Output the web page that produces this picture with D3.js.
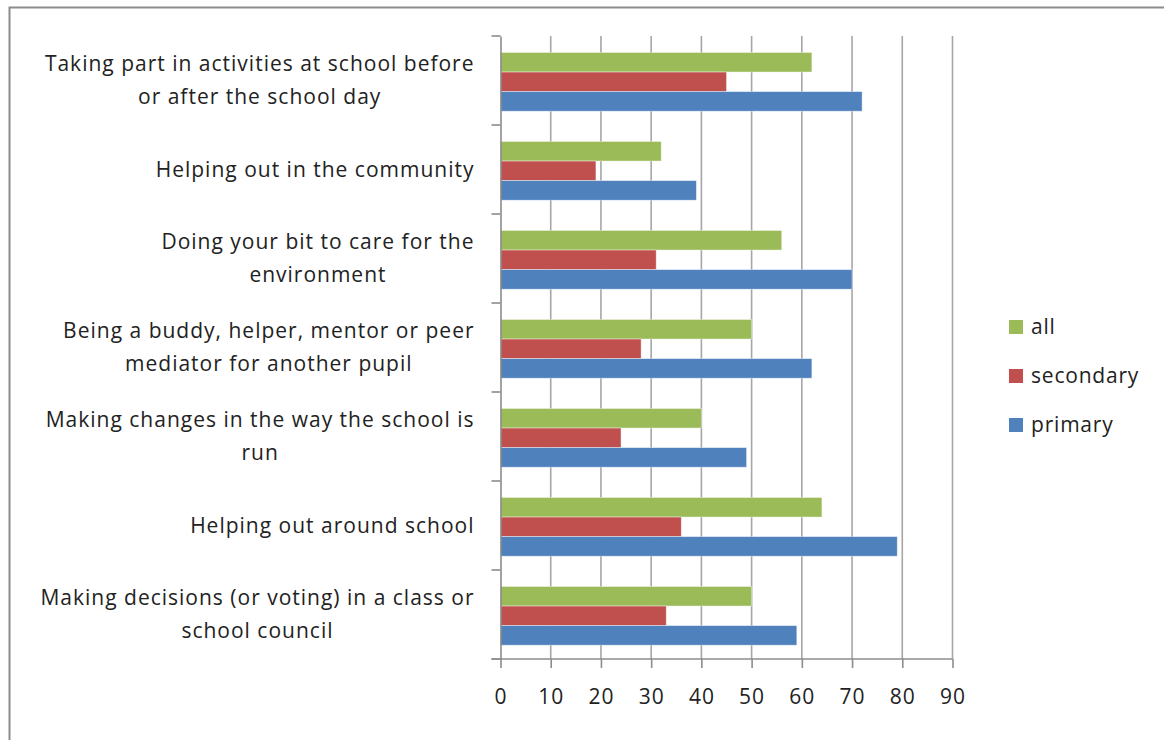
<!DOCTYPE html>
<html>
<head>
<meta charset="utf-8">
<script src="https://cdn.jsdelivr.net/npm/d3@7"></script>
<style>
  body { margin: 0; background: #fff; }
  text { font-family: "Open Sans", Lato, sans-serif; fill: #222; }
</style>
</head>
<body>
<div id="chart"></div>
<script>
// categories, top to bottom (each one split into display lines)
var categories = [
  ["Taking part in activities at school before", "or after the school day"],
  ["Helping out in the community"],
  ["Doing your bit to care for the", "environment"],
  ["Being a buddy, helper, mentor or peer", "mediator for another pupil"],
  ["Making changes in the way the school is", "run"],
  ["Helping out around school"],
  ["Making decisions (or voting) in a class or", "school council"]
];

// series values, same order as categories
var allVals       = [62, 32, 56, 50, 40, 64, 50];
var secondaryVals = [45, 19, 31, 28, 24, 36, 33];
var primaryVals   = [72, 39, 70, 62, 49, 79, 59];

var seriesNames = ["all", "secondary", "primary"];
var seriesColors = ["#9BBB59", "#C0504D", "#4F81BD"];
var xTicks = [0, 10, 20, 30, 40, 50, 60, 70, 80, 90];

var svgWidth = 1164;
var svgHeight = 740;

//plot area
var margin = { top: 36, left: 500.5, right: 211, bottom: 81 };
var width = 952.5 - margin.left;
var height = 659 - margin.top;

var svg = d3.select("#chart")
  .append("svg")
  .attr("width", svgWidth)
  .attr("height", svgHeight);

// frame round the chart (runs off the right and bottom edge)
svg.append("rect")
  .attr("x", 9.5)
  .attr("y", 7.5)
  .attr("width", 1200)
  .attr("height", 800)
  .attr("fill", "none")
  .attr("stroke", "#8c8c8c")
  .attr("stroke-width", 2);

var g = svg.append("g")
  .attr("transform", `translate(${margin.left},${margin.top})`);

var x = d3.scaleLinear().domain([0, 90]).range([0, width]);
var y = d3.scaleBand().domain(d3.range(categories.length)).range([0, height]);
var inner = d3.scaleBand().domain(seriesNames).range([0, y.bandwidth() * 0.66]);

// gridlines
g.selectAll(".grid")
  .data(xTicks.slice(1))
  .enter()
  .append("line")
  .attr("x1", d => x(d))
  .attr("x2", d => x(d))
  .attr("y1", 0)
  .attr("y2", height)
  .attr("stroke", "#a6a6a6")
  .attr("stroke-width", 1.6);

// bars
var rows = categories.map((c, i) => [allVals[i], secondaryVals[i], primaryVals[i]]);
rows.forEach(function(vals, i) {
  var top = y(i) + y.bandwidth() * 0.185;
  g.selectAll(".bar" + i)
    .data(vals)
    .enter()
    .append("rect")
    .attr("x", x(0))
    .attr("y", (d, j) => top + inner(seriesNames[j]))
    .attr("width", d => x(d) - x(0))
    .attr("height", inner.bandwidth())
    .attr("fill", (d, j) => seriesColors[j])
    .attr("stroke", "#ffffff")
    .attr("stroke-opacity", 0.5)
    .attr("stroke-width", 0.8);
});

// category axis
var yAxis = g.append("g")
  .call(d3.axisLeft(y).tickSize(0).tickFormat(""));
yAxis.select(".domain").attr("stroke", "#8c8c8c").attr("stroke-width", 1.6);
g.selectAll(".ytick")
  .data(d3.range(categories.length + 1))
  .enter()
  .append("line")
  .attr("x1", -9)
  .attr("x2", 0)
  .attr("y1", d => d * y.step())
  .attr("y2", d => d * y.step())
  .attr("stroke", "#8c8c8c")
  .attr("stroke-width", 1.6);

// category labels: lines centred in a block that is right aligned
categories.forEach(function(lines, i) {
  var cy = y(i) + y.bandwidth() / 2;
  var lh = 33;
  var t = g.append("text")
    .attr("text-anchor", "middle")
    .attr("font-size", "21px")
    .attr("letter-spacing", "1px");
  var spans = lines.map(function(line, k) {
    return t.append("tspan")
      .attr("y", cy + (k - (lines.length - 1) / 2) * lh)
      .attr("dy", "0.35em")
      .text(line);
  });
  var maxW = d3.max(spans, s => s.node().getComputedTextLength());
  spans.forEach(s => s.attr("x", -26 - maxW / 2));
});

// value axis
var xAxis = g.append("g")
  .attr("transform", `translate(0,${height})`)
  .call(d3.axisBottom(x).tickValues(xTicks).tickSize(9).tickPadding(21));
xAxis.select(".domain").remove();
xAxis.append("line")
  .attr("x1", -9).attr("x2", width)
  .attr("stroke", "#8c8c8c").attr("stroke-width", 1.6);
xAxis.selectAll(".tick line").attr("stroke", "#8c8c8c").attr("stroke-width", 1.6);
xAxis.selectAll(".tick text")
  .attr("font-size", "21px")
  .attr("letter-spacing", "1px")
  .style("font-family", "'Open Sans', Lato, sans-serif")
  .attr("fill", "#222");

// legend
var legend = svg.append("g").attr("transform", "translate(1009,0)");
var legendY = [327, 376, 425];
seriesNames.forEach(function(name, i) {
  legend.append("rect")
    .attr("x", 0)
    .attr("y", legendY[i] - 7)
    .attr("width", 14)
    .attr("height", 14)
    .attr("fill", seriesColors[i]);
  legend.append("text")
    .attr("x", 22)
    .attr("y", legendY[i])
    .attr("dy", "0.35em")
    .attr("font-size", "21px")
    .attr("letter-spacing", "0.8px")
    .text(name);
});
</script>
</body>
</html>
